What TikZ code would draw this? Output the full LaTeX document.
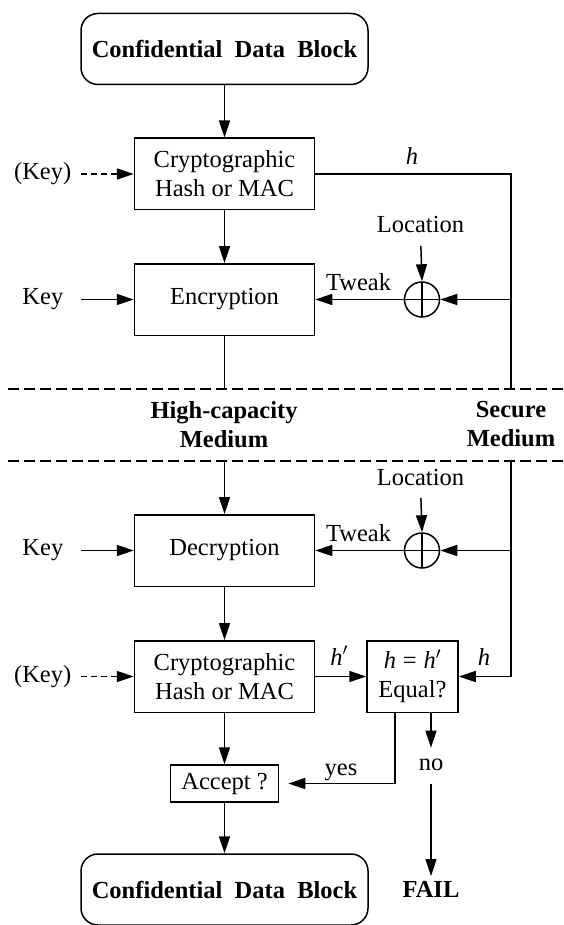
\documentclass[tikz,border=0pt]{standalone}
\usepackage{fontspec}
\setmainfont{Liberation Serif}
\usetikzlibrary{arrows.meta}

\begin{document}
\begin{tikzpicture}[
    x=1pt, y=-1pt,
    line width=1.5pt,
    font=\fontsize{24.5}{29}\selectfont,
    arr/.style={-{Triangle[length=17pt,width=11pt]}},
    keyarr/.style={arr, dash pattern=on 6pt off 4pt},
    block/.style={draw, rectangle, minimum width=180pt, minimum height=71.5pt,
                  align=center, inner sep=0pt},
    datablock/.style={draw, rectangle, rounded corners=17pt, minimum width=287pt,
                      minimum height=71pt, inner sep=0pt, font=\fontsize{24.5}{29}\selectfont\bfseries},
    smallbox/.style={draw, rectangle, align=center, inner sep=0pt},
    xorgate/.style={draw, circle, minimum size=35pt, inner sep=0pt,
        path picture={\draw (path picture bounding box.north) -- (path picture bounding box.south)
                            (path picture bounding box.west) -- (path picture bounding box.east);}},
    lbl/.style={inner sep=0pt},
    medium/.style={align=center, inner sep=0pt, font=\fontsize{24.5}{29}\selectfont\bfseries},
    sep/.style={dash pattern=on 10.5pt off 5.5pt}
  ]
  \useasboundingbox (0,0) rectangle (563,925);

  % ---- writing side ----
  \node[datablock] (src) at (224.5,49) {Confidential\ \ Data\ \ Block};
  \node[block] (hash1) at (224.5,174) {Cryptographic\\Hash or MAC};
  \node[block] (enc) at (224.5,299.5) {Encryption};
  \node[xorgate] (xor1) at (422,299.5) {};
  \node[lbl, anchor=base] (loc1) at (420.5,233) {Location};
  \node[lbl, anchor=base] (tw1) at (358.5,290) {Tweak};
  \node[lbl, anchor=base] (hl1) at (412,165) {\textit{h}};
  \node[lbl, anchor=east] (okey1) at (72,174) {(Key)};
  \node[lbl, anchor=east] (key1) at (64,299.5) {Key};

  \coordinate (hc1) at (224.5,389);
  \coordinate (sec1) at (511,389);
  \coordinate (tap1) at (511,299.5);

  \draw[arr] (src) -- (hash1);
  \draw[arr] (hash1) -- (enc);
  \draw[keyarr, shorten <=9pt] (okey1.east) -- (hash1.west);
  \draw[arr, shorten <=17pt] (key1.east) -- (enc.west);
  \draw (hash1.east) -| (sec1);
  \draw[arr] (tap1) -- (xor1.east);
  \draw[arr] (xor1.west) -- (enc.east);
  \draw[arr, shorten <=12pt] (loc1.south) -- (xor1.north);
  \draw (enc.south) -- (hc1);

  % ---- storage media ----
  \coordinate (d1l) at (8,389);
  \coordinate (d1r) at (563,389);
  \coordinate (d2l) at (8,461);
  \coordinate (d2r) at (563,461);
  \draw[sep] (d1l) -- (d1r);
  \draw[sep] (d2l) -- (d2r);
  \node[medium] (hcm) at (224,424.5) {High-capacity\\Medium};
  \node[medium] (secm) at (511,424.5) {Secure\\Medium};

  % ---- reading side ----
  \coordinate (hc2) at (224.5,461);
  \coordinate (sec2) at (511,461);
  \coordinate (tap2) at (511,550.5);

  \node[block] (dec) at (224.5,550.5) {Decryption};
  \node[xorgate] (xor2) at (422,550.5) {};
  \node[lbl, anchor=base] (loc2) at (420.5,485) {Location};
  \node[lbl, anchor=base] (tw2) at (358.5,541) {Tweak};
  \node[lbl, anchor=east] (key2) at (64,550.5) {Key};

  \node[block] (hash2) at (224.5,676.5) {Cryptographic\\Hash or MAC};
  \node[lbl, anchor=east] (okey2) at (72,676.5) {(Key)};
  \node[smallbox, minimum width=91pt, minimum height=71.5pt] (eq) at (412.5,676.5)
       {\textit{h}\;=\;\textit{h}$'$\\Equal?};
  \node[lbl, anchor=base] (hp) at (339,665) {\textit{h}$'$};
  \node[lbl, anchor=base] (hl2) at (484,665) {\textit{h}};

  \node[smallbox, minimum width=108pt, minimum height=37pt] (acc) at (224.5,783.5) {Accept ?};
  \node[lbl, anchor=base] (yes) at (341,775) {yes};
  \node[lbl, anchor=base] (no) at (431,770) {no};
  \node[lbl, anchor=base, font=\fontsize{24.5}{29}\selectfont\bfseries] (fail) at (431,897) {FAIL};
  \node[datablock] (dst) at (224.5,889.5) {Confidential\ \ Data\ \ Block};

  \draw[arr] (hc2) -- (dec);
  \draw[arr] (dec) -- (hash2);
  \draw[arr] (tap2) -- (xor2.east);
  \draw[arr] (xor2.west) -- (dec.east);
  \draw[arr, shorten <=12pt] (loc2.south) -- (xor2.north);
  \draw[arr, shorten <=17pt] (key2.east) -- (dec.west);
  \draw[keyarr, shorten <=9pt] (okey2.east) -- (hash2.west);
  \draw[arr] (sec2) |- (eq.east);
  \draw[arr] (hash2.east) -- (eq.west);
  \draw[arr] (hash2) -- (acc);
  \draw[arr] (acc) -- (dst);
  \draw[arr] ([xshift=-17.5pt]eq.south) |- ([xshift=9pt]acc.east);
  \draw[arr, shorten >=10pt] (eq.south -| no) -- (no.north);
  \draw[arr, shorten <=13pt, shorten >=4pt] (no.south) -- (fail.north);
\end{tikzpicture}
\end{document}
